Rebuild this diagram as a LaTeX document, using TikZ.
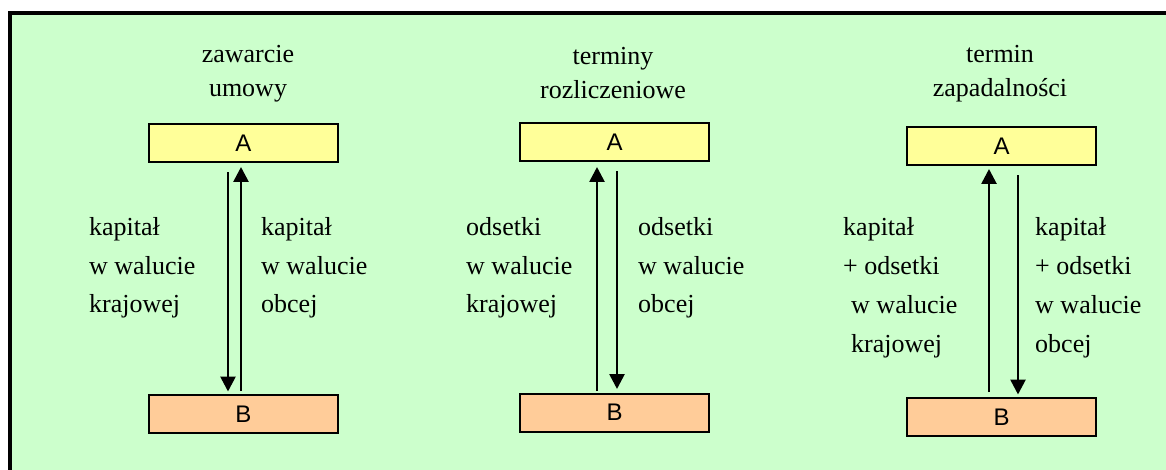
\documentclass[tikz,border=0pt]{standalone}
\usepackage{fontspec}
\setmainfont{Liberation Serif}
\newfontfamily\boxfont{Liberation Sans}
\usetikzlibrary{arrows.meta}
\definecolor{bggreen}{HTML}{CCFFCC}
\definecolor{boxA}{HTML}{FFFF99}
\definecolor{boxB}{HTML}{FFCC99}
\tikzset{
  boxa/.style={draw=black, line width=2pt, fill=boxA, minimum width=189pt, minimum height=38pt, inner sep=0pt, font=\boxfont\fontsize{24}{28}\selectfont},
  boxb/.style={boxa, fill=boxB},
  lbl/.style={anchor=base west, inner sep=0pt, font=\fontsize{26}{30}\selectfont},
  ttl/.style={anchor=base, inner sep=0pt, font=\fontsize{26}{30}\selectfont},
  arr/.style={line width=2.7pt, -{Triangle[width=15pt,length=15pt]}},
}
\begin{document}
\begin{tikzpicture}[x=1pt,y=-1pt]
\useasboundingbox (0,0) rectangle (1166,470);
\begin{scope}
\clip (0,0) rectangle (1166,470);
\fill[bggreen] (10,13) rectangle (1180,480);
\draw[line width=4pt] (10,480) -- (10,13) -- (1180,13);
\end{scope}

% panel 1
\node[ttl] (t1a) at (248,63) {zawarcie};
\node[ttl] (t1b) at (248,97) {umowy};
\node[boxa] (A1) at (243.5,143.5) {A};
\node[boxb] (B1) at (243.5,414) {B};
\draw[arr] ([xshift=-15.5pt,yshift=-9pt]A1.south) -- ([xshift=-15.5pt,yshift=2.5pt]B1.north);
\draw[arr] ([xshift=-2.5pt,yshift=3pt]B1.north) -- ([xshift=-2.5pt,yshift=-3.5pt]A1.south);
\node[lbl] (l1a) at (89,236) {kapitał};
\node[lbl] (l1b) at (89,274) {w walucie};
\node[lbl] (l1c) at (89,312) {krajowej};
\node[lbl] (r1a) at (261,236) {kapitał};
\node[lbl] (r1b) at (261,274) {w walucie};
\node[lbl] (r1c) at (261,312) {obcej};

% panel 2
\node[ttl] (t2a) at (613,65) {terminy};
\node[ttl] (t2b) at (613,99) {rozliczeniowe};
\node[boxa] (A2) at (614.5,142.5) {A};
\node[boxb] (B2) at (614.5,412.5) {B};
\draw[arr] ([xshift=-17.5pt,yshift=2pt]B2.north) -- ([xshift=-17.5pt,yshift=-4.5pt]A2.south);
\draw[arr] ([xshift=2.5pt,yshift=-9pt]A2.south) -- ([xshift=2.5pt,yshift=3.5pt]B2.north);
\node[lbl] (l2a) at (466,236) {odsetki};
\node[lbl] (l2b) at (466,274) {w walucie};
\node[lbl] (l2c) at (466,312) {krajowej};
\node[lbl] (r2a) at (638,236) {odsetki};
\node[lbl] (r2b) at (638,274) {w walucie};
\node[lbl] (r2c) at (638,312) {obcej};

% panel 3
\node[ttl] (t3a) at (1000,63) {termin};
\node[ttl] (t3b) at (1000,97) {zapadalności};
\node[boxa] (A3) at (1001.5,146.5) {A};
\node[boxb] (B3) at (1001.5,417) {B};
\draw[arr] ([xshift=-12.5pt,yshift=5pt]B3.north) -- ([xshift=-12.5pt,yshift=-2.5pt]A3.south);
\draw[arr] ([xshift=16.5pt,yshift=-9pt]A3.south) -- ([xshift=16.5pt,yshift=2.5pt]B3.north);
\node[lbl] (l3a) at (843,236) {kapitał};
\node[lbl] (l3b) at (843,274) {+ odsetki};
\node[lbl] (l3c) at (851,313) {w walucie};
\node[lbl] (l3d) at (851,352) {krajowej};
\node[lbl] (r3a) at (1035,236) {kapitał};
\node[lbl] (r3b) at (1035,274) {+ odsetki};
\node[lbl] (r3c) at (1035,313) {w walucie};
\node[lbl] (r3d) at (1035,352) {obcej};
\end{tikzpicture}
\end{document}
